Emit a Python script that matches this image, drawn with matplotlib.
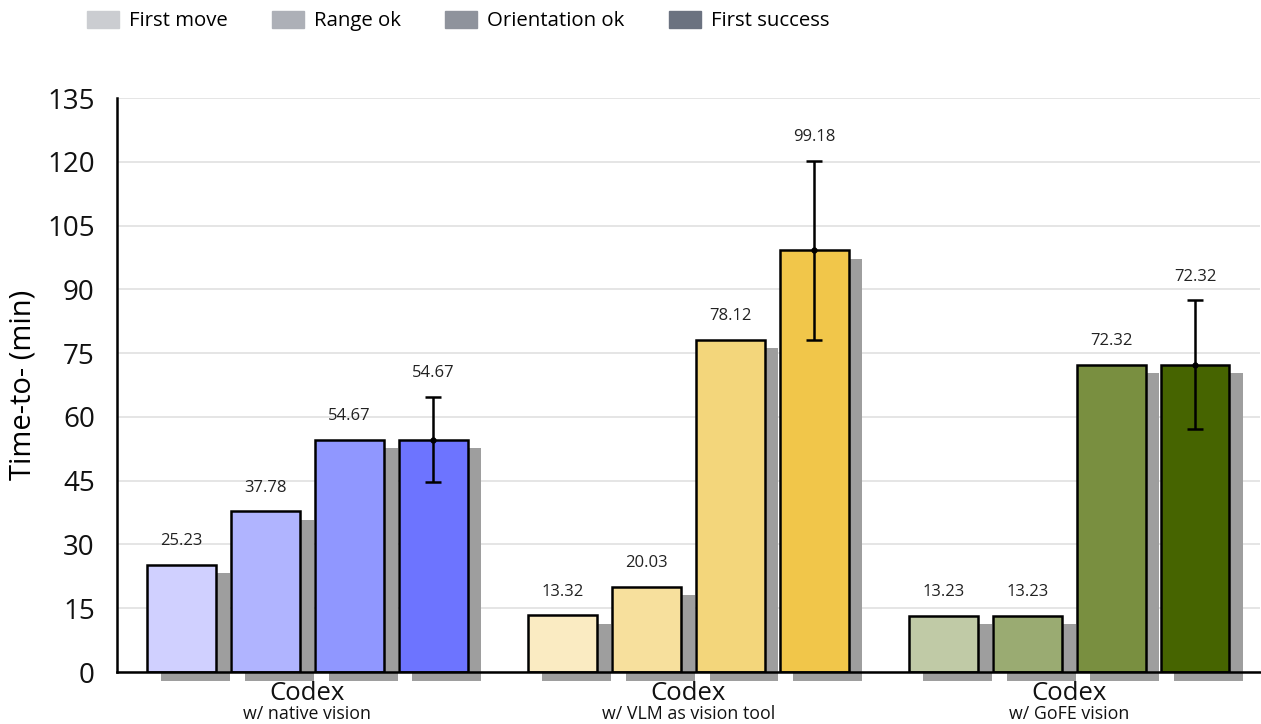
import matplotlib
matplotlib.use("Agg")
import matplotlib.pyplot as plt
import numpy as np
from matplotlib.patches import Patch
from matplotlib.transforms import blended_transform_factory

plt.rcParams['font.family'] = ['Open Sans', 'DejaVu Sans']

# данные
groups = ["Codex", "Codex", "Codex"]
subtitles = ["w/ native vision", "w/ VLM as vision tool", "w/ GoFE vision"]
stages = ["First move", "Range ok", "Orientation ok", "First success"]
values = [
    [25.23, 37.78, 54.67, 54.67],
    [13.32, 20.03, 78.12, 99.18],
    [13.23, 13.23, 72.32, 72.32],
]
errors = [10.0, 21.1, 15.1]  # только у последнего столбца
colors = [
    ["#d0d0ff", "#b0b4ff", "#9097ff", "#6d74ff"],
    ["#faebc2", "#f7e09d", "#f3d67b", "#f1c64a"],
    ["#c0caa6", "#9aab72", "#798f40", "#466400"],
]
legend_colors = ["#cbcdd1", "#adb0b7", "#8f939c", "#6b7280"]
yticks = [0, 15, 30, 45, 60, 75, 90, 105, 120, 135]


def main():
    fig = plt.figure(figsize=(12.61, 7.24), dpi=100)
    ax = fig.add_axes([0.0928, 0.0718, 0.9062, 0.7928])

    width = 0.181
    offsets = [-0.33, -0.11, 0.11, 0.33]
    for g in range(len(groups)):
        for i in range(len(stages)):
            x = g + offsets[i]
            v = values[g][i]
            # тень
            ax.bar(x + 0.036, v, width, bottom=-2.0, color="#9e9e9e",
                   zorder=1, clip_on=False, linewidth=0)
            ax.bar(x, v, width, color=colors[g][i], edgecolor="black",
                   linewidth=1.8, zorder=3)
            top = v
            if i == 3:
                ax.errorbar(x, v, yerr=errors[g], fmt='o', color='black',
                            markersize=3.5, capsize=5.5, capthick=1.8, elinewidth=1.8,
                            zorder=5)
                top = v + errors[g]
            ax.annotate(f"{v:.2f}", (x, top), xytext=(0, 17), textcoords='offset points',
                        ha='center', va='center', fontsize=12, color="#222222")

    ax.set_xlim(-0.5, 2.5)
    ax.set_ylim(0, 135)
    ax.set_yticks(yticks)
    ax.tick_params(axis='y', length=0, pad=16, labelsize=20, colors="#111111")
    ax.set_xticks([])
    ax.grid(axis='y', color="#e0e0e0", linewidth=1.2, zorder=0)
    ax.set_axisbelow(True)
    for s in ["top", "right"]:
        ax.spines[s].set_visible(False)
    ax.spines["left"].set_linewidth(1.8)
    ax.spines["bottom"].set_linewidth(1.8)
    ax.spines["bottom"].set_zorder(4)
    ax.set_ylabel("Time-to- (min)", fontsize=21, labelpad=7)

    trans = blended_transform_factory(ax.transData, fig.transFigure)
    for g in range(len(groups)):
        ax.text(g, 1 - 693 / 724, groups[g], transform=trans, ha='center', va='center',
                fontsize=18.5, color="#111111")
        ax.text(g, 1 - 714 / 724, subtitles[g], transform=trans, ha='center', va='center',
                fontsize=12.8, color="#111111")

    handles = [Patch(color=c, label=s) for c, s in zip(legend_colors, stages)]
    fig.legend(handles=handles, loc='center left', bbox_to_anchor=(87 / 1261, 1 - 21 / 724),
               ncol=4, frameon=False, fontsize=14.7, handlelength=1.57, handleheight=0.9,
               handletextpad=0.5, columnspacing=2.15, borderpad=0, borderaxespad=0)

    fig.savefig("out.png", dpi=100)


if __name__ == '__main__':
    main()
